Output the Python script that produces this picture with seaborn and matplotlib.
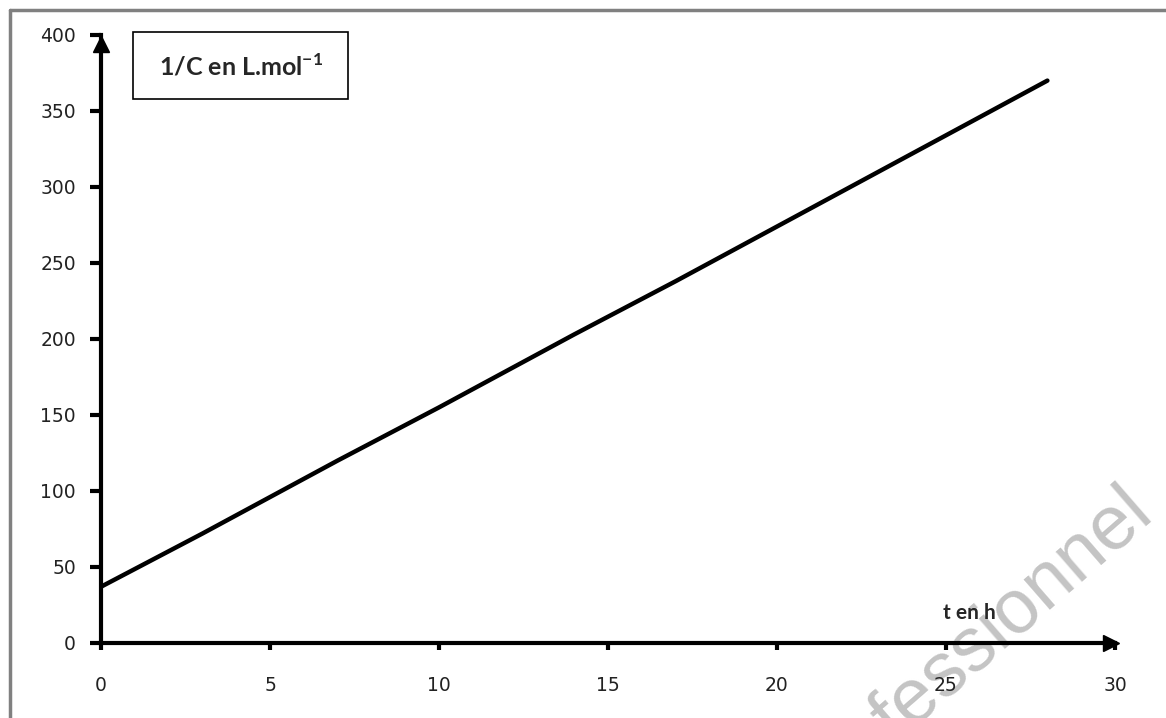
import matplotlib
matplotlib.use("Agg")
from matplotlib import pyplot as plt
from matplotlib.patches import Rectangle
from matplotlib.lines import Line2D
import seaborn as sns
import pandas as pd

# values
t_h = [0, 3, 7, 10, 14, 17, 21, 24, 28]
inv_c = [37, 72, 120, 155, 203, 238, 286, 322, 370]
x_ticks = [0, 5, 10, 15, 20, 25, 30]
y_ticks = [0, 50, 100, 150, 200, 250, 300, 350, 400]

sns.set_theme(style="white")
plt.rcParams["font.family"] = ["DejaVu Sans"]
plt.rcParams["mathtext.fontset"] = "custom"
plt.rcParams["mathtext.rm"] = "Lato"
plt.rcParams["mathtext.bf"] = "Lato:bold"

df = pd.DataFrame({"t": t_h, "invC": inv_c})

fig = plt.figure(figsize=(11.66, 7.18), dpi=100)
fig.patch.set_facecolor("white")
ax = fig.add_axes([101 / 1166, 75 / 718, 1014 / 1166, 608 / 718])
ax.set_zorder(1)
ax.patch.set_alpha(0)

sns.lineplot(x="t", y="invC", data=df, ax=ax, color="black", linewidth=3.2)

ax.set_xlim(0, 30)
ax.set_ylim(0, 400)
ax.set_xticks(x_ticks)
ax.set_yticks(y_ticks)
ax.set_xlabel("")
ax.set_ylabel("")
for s in ["top", "right"]:
    ax.spines[s].set_visible(False)
for s in ["left", "bottom"]:
    ax.spines[s].set_linewidth(3)
    ax.spines[s].set_color("black")
ax.tick_params(axis="x", direction="out", length=5, width=3, color="black",
               pad=19, labelsize=13.5, labelcolor="#222222", bottom=True)
ax.tick_params(axis="y", direction="out", length=8, width=3, color="black",
               pad=10, labelsize=13.5, labelcolor="#222222", left=True)
ax.grid(False)

# axis arrows
ax.plot(0.996, 0, marker=">", markersize=11, color="black",
        transform=ax.transAxes, clip_on=False)
ax.plot(0, 0.986, marker="^", markersize=11, color="black",
        transform=ax.transAxes, clip_on=False)

ax.text(25.7, 20, "t en h", ha="center", va="center", fontsize=15,
        fontweight="bold", family=["Lato", "DejaVu Sans"])

# y label box
fig.patches.append(Rectangle((133 / 1166, 1 - 99 / 718), 215 / 1166, 67 / 718,
                             transform=fig.transFigure, facecolor="white",
                             edgecolor="black", linewidth=1.2, zorder=5))
fig.text(241 / 1166, 1 - 66 / 718, r"1/C en L.mol$^{\mathbf{-1}}$",
         ha="center", va="center", fontsize=18, fontweight="bold",
         family=["Lato", "DejaVu Sans"], zorder=6)

# watermark, behind the axes
fig.text(1142 / 1166, 1 - 500 / 718, "professionnel", rotation=41,
         ha="right", va="center", fontsize=55, color="#c4c4c4",
         family=["Liberation Sans", "DejaVu Sans"], zorder=0,
         rotation_mode="anchor")

# outer frame, only top and left edges fall inside the picture
fig.lines.append(Line2D([9.5 / 1166, 9.5 / 1166], [0, 1 - 9.5 / 718],
                        transform=fig.transFigure, color="#808080", linewidth=2.5))
fig.lines.append(Line2D([9.5 / 1166, 1], [1 - 9.5 / 718, 1 - 9.5 / 718],
                        transform=fig.transFigure, color="#808080", linewidth=2.5))

fig.savefig("out.png", dpi=100)
